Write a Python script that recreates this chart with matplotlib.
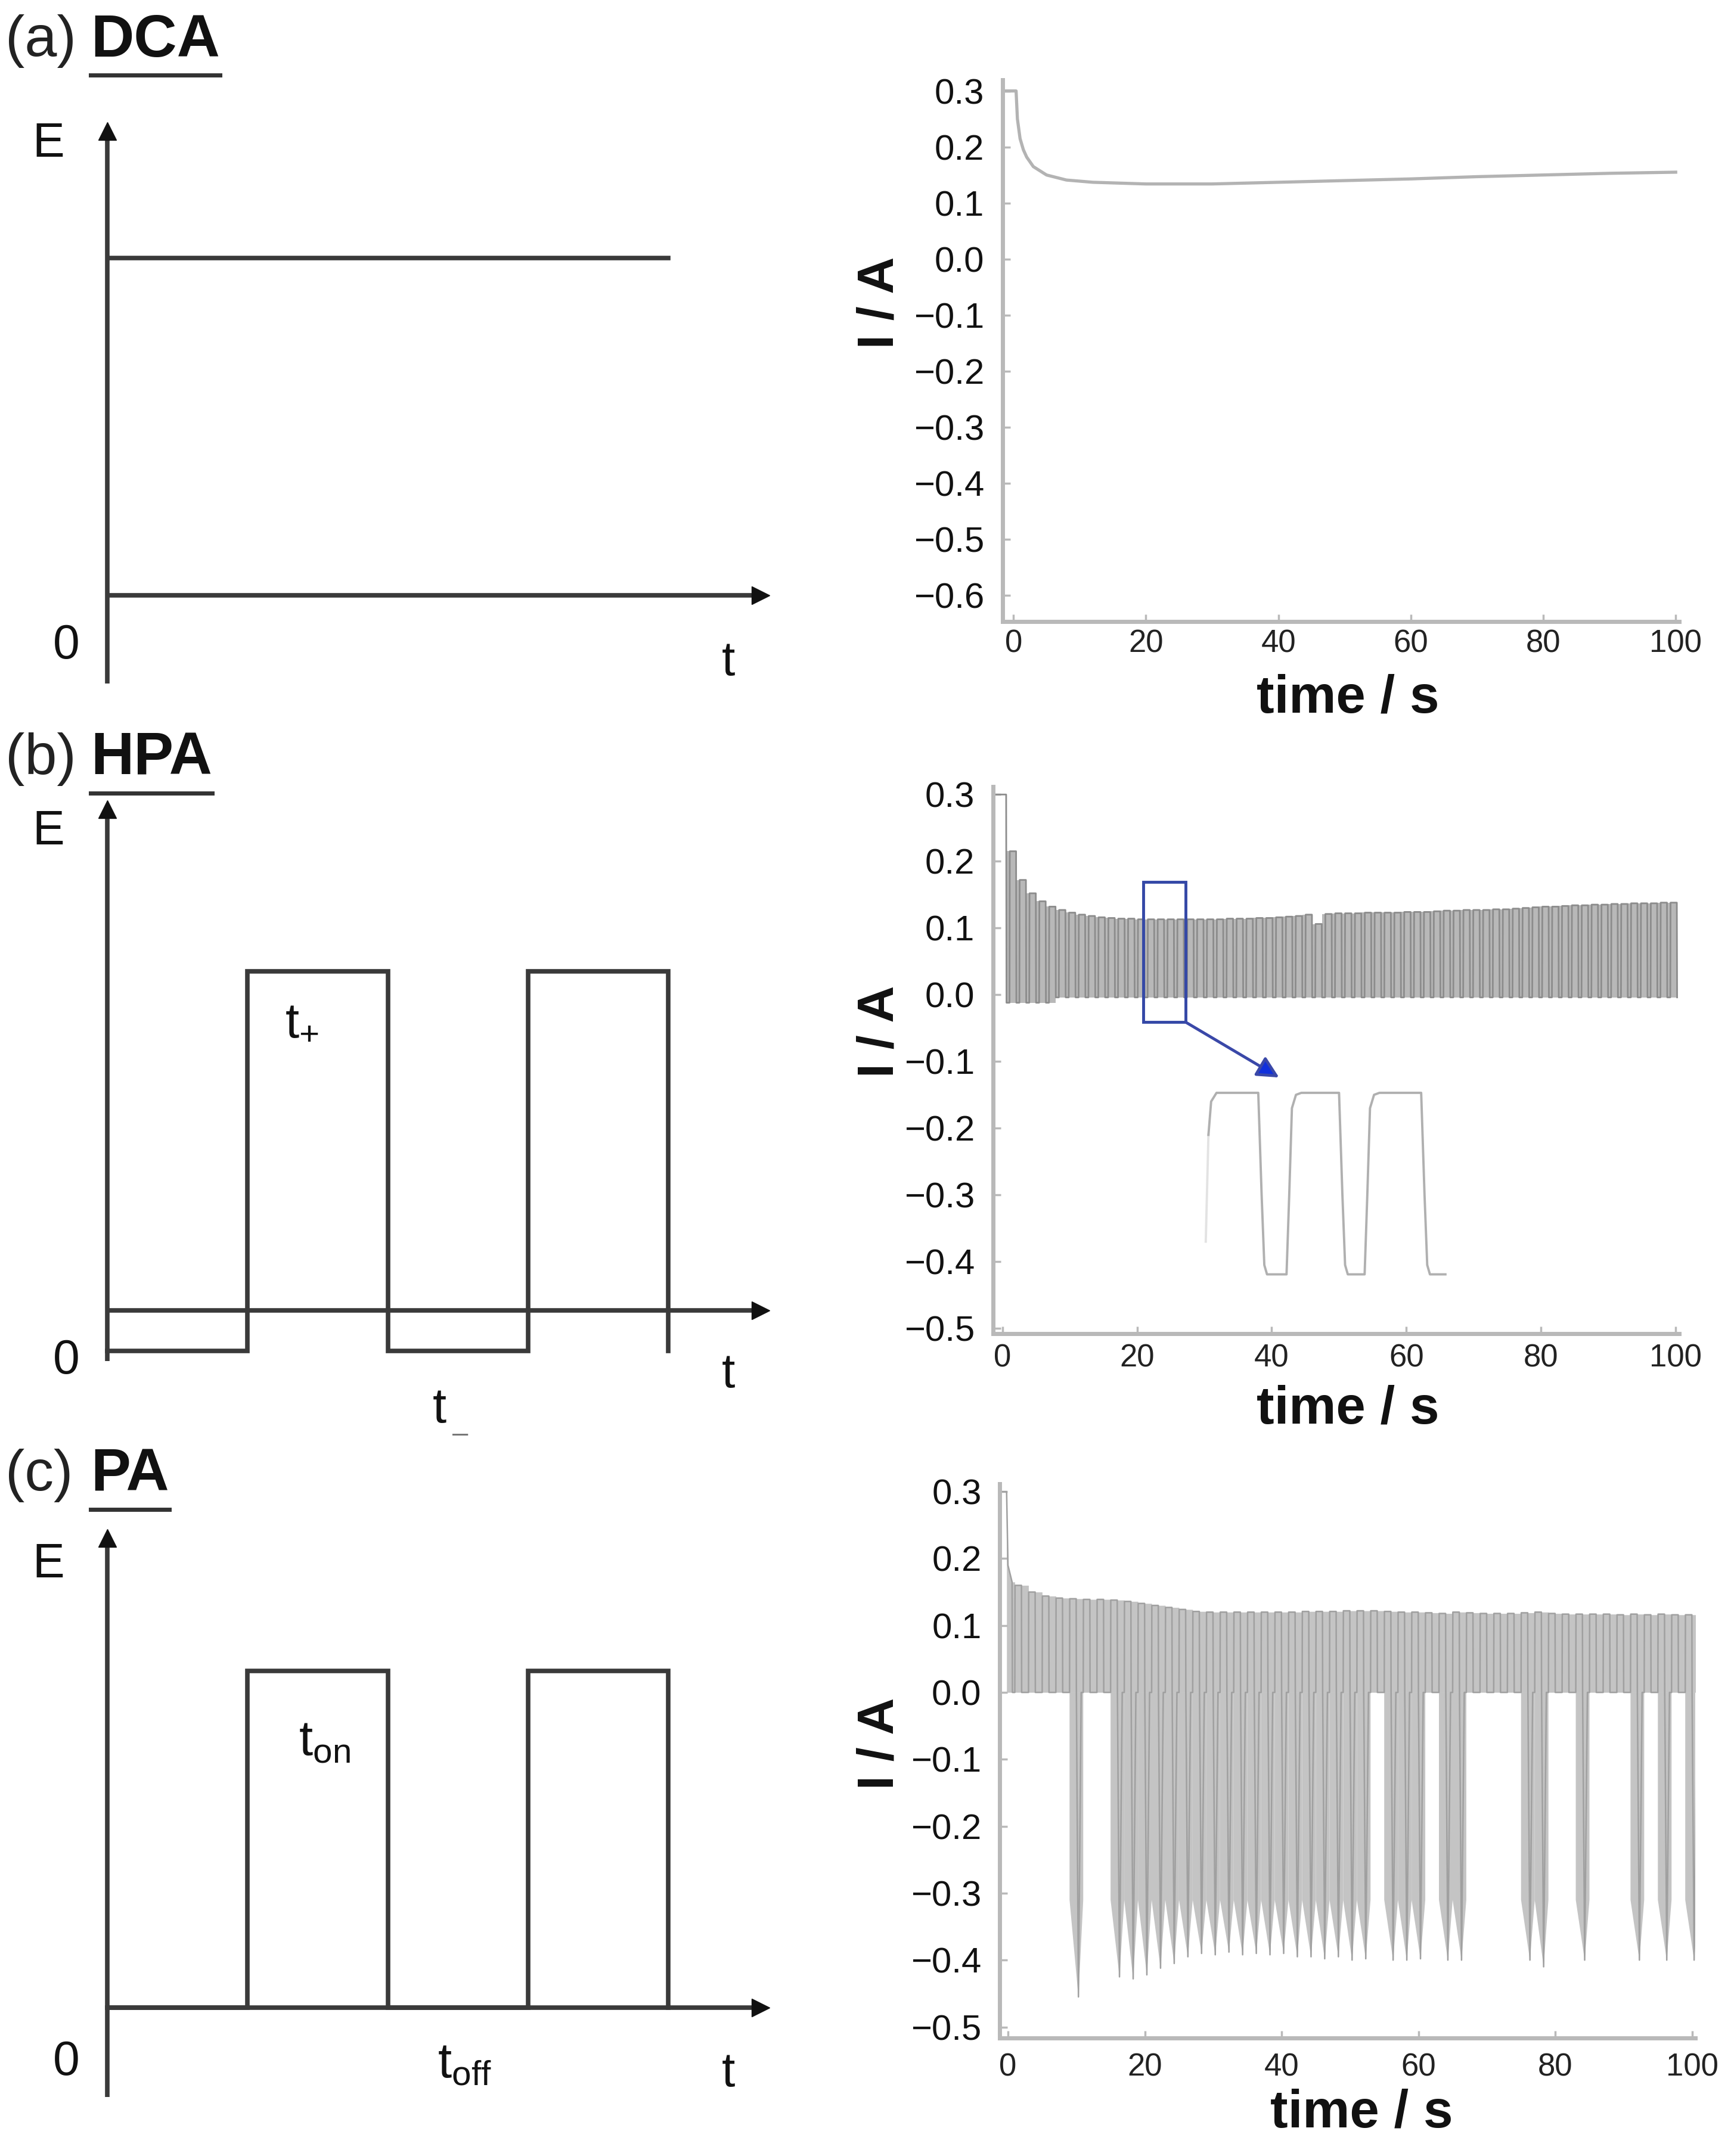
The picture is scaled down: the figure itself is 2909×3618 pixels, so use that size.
import numpy as np
import matplotlib
matplotlib.use('Agg')
import matplotlib.pyplot as plt
from matplotlib.lines import Line2D
from matplotlib.patches import Rectangle

plt.rcParams['font.family'] = ['Liberation Sans', 'DejaVu Sans']
plt.rcParams['mathtext.fontset'] = 'custom'
plt.rcParams['mathtext.rm'] = 'Liberation Sans'
plt.rcParams['mathtext.it'] = 'Liberation Sans'
plt.rcParams['mathtext.bf'] = 'Liberation Sans:bold'

# ---------------- data ----------------
panel_tags = ['(a)', '(b)', '(c)']
panel_names = ['DCA', 'HPA', 'PA']

# schematic potential programmes (arbitrary units)
sch_switch = [1, 2, 3, 4]
sch_dca_level = 0.72
sch_hpa_high, sch_hpa_low = 0.67, -0.08
sch_pa_high = 0.71

time_ticks = [0, 20, 40, 60, 80, 100]
dca_yticks = [0.3, 0.2, 0.1, 0.0, -0.1, -0.2, -0.3, -0.4, -0.5, -0.6]
pulse_yticks = [0.3, 0.2, 0.1, 0.0, -0.1, -0.2, -0.3, -0.4, -0.5]

# (a) direct current
dca_t = [-1.6, 0.4, 0.6, 1.0, 1.5, 2.0, 3.0, 5.0, 8.0, 12, 20, 30, 40, 50, 60, 70, 80, 90, 100]
dca_i = [0.30, 0.30, 0.25, 0.215, 0.195, 0.182, 0.165, 0.150, 0.141, 0.137, 0.134,
         0.134, 0.137, 0.140, 0.143, 0.147, 0.150, 0.153, 0.155]

# (b) hybrid pulse: first step, then one upper level per cycle
hpa_first_t = [-1.35, -1.35, 0.55, 0.6]
hpa_first_i = [0.0, 0.30, 0.30, -0.012]
hpa_start = 0.6
hpa_period = 1.465
hpa_low_time = 0.45
hpa_low_early, hpa_low = -0.012, -0.004
hpa_early_cycles = 5
hpa_peaks = [0.215, 0.172, 0.152, 0.140, 0.132, 0.127, 0.123, 0.120, 0.118, 0.116,
             0.115, 0.114, 0.114, 0.113, 0.113, 0.113, 0.113, 0.113, 0.113, 0.113,
             0.113, 0.113, 0.114, 0.114, 0.114, 0.115, 0.115, 0.116, 0.117, 0.118,
             0.120, 0.106, 0.121,
             0.122, 0.122, 0.122, 0.123, 0.123, 0.123, 0.123, 0.124, 0.124, 0.124, 0.125,
             0.126, 0.126, 0.127, 0.127, 0.127, 0.128, 0.128, 0.129,
             0.130, 0.131, 0.132, 0.132, 0.133,
             0.134, 0.134, 0.135, 0.135, 0.136, 0.136, 0.137, 0.137, 0.137, 0.138, 0.138]
# magnified view of three HPA cycles
hpa_zoom_t = [30.6, 31.0, 31.8, 38.0, 38.5, 38.9, 39.3, 42.2, 42.6, 43.0, 43.6, 44.4,
              50.0, 50.5, 50.9, 51.3, 53.8, 54.2, 54.6, 55.2, 56.0, 62.2, 62.7, 63.1, 63.5, 65.8]
hpa_zoom_i = [-0.21, -0.16, -0.147, -0.147, -0.30, -0.405, -0.419, -0.419, -0.30, -0.17, -0.150, -0.147,
              -0.147, -0.30, -0.405, -0.419, -0.419, -0.30, -0.17, -0.150, -0.147, -0.147, -0.30,
              -0.405, -0.419, -0.419]
hpa_zoom_fade_t = [30.2, 30.6]
hpa_zoom_fade_i = [-0.37, -0.21]
zoom_box = (20.9, 27.2, -0.041, 0.169)
zoom_arrow_tip = (41.1, -0.124)

# (c) pulse: first step, then one on-level per 2 s cycle
pa_first_t = [-1.1, -1.1, -0.2, 0.0, 0.6, 0.65, 1.0]
pa_first_i = [0.0, 0.30, 0.30, 0.19, 0.165, 0.0, 0.0]
pa_first_on = 1.0
pa_period = 2.0
pa_on_time = 1.0
pa_highs = [0.160, 0.150, 0.144, 0.141, 0.140, 0.139, 0.139, 0.138, 0.136, 0.133,
            0.130, 0.127, 0.124, 0.121, 0.120, 0.120, 0.120, 0.120, 0.120, 0.120,
            0.120, 0.121, 0.121, 0.121, 0.122, 0.122, 0.122, 0.121, 0.120, 0.120,
            0.119, 0.118, 0.120, 0.119, 0.118, 0.118, 0.118, 0.119, 0.120, 0.118,
            0.117, 0.117, 0.117, 0.117, 0.116, 0.117, 0.116, 0.117, 0.116, 0.116]
pa_spike_t = [10, 16, 18, 20, 22, 24, 26, 28, 30, 32, 34, 36, 38, 40, 42, 44, 46, 48, 50, 52,
              56, 58, 60, 64, 66, 76, 78, 84, 92, 96, 100]
pa_spike_depth = [-0.455, -0.425, -0.428, -0.422, -0.412, -0.405, -0.395, -0.390, -0.392, -0.388,
                  -0.392, -0.390, -0.392, -0.390, -0.395, -0.395, -0.398, -0.395, -0.400, -0.398,
                  -0.400, -0.400, -0.398, -0.400, -0.400, -0.400, -0.410, -0.400, -0.400, -0.400, -0.400]

# ---------------- figure ----------------
fig = plt.figure(figsize=(29.09, 36.18), dpi=100)
W, H = 1261.0, 1568.0  # layout grid (px of the page)


def rect(x0, y0, x1, y1):
    return [x0 / W, 1 - y1 / H, (x1 - x0) / W, (y1 - y0) / H]


INK = '#3a3a3a'
TXT = '#111111'
XUNIT = 102.0

# ---- left column: schematics ----
# (top of E axis, t axis, bottom of E axis) and label rows, page px
sch_rows = [(92, 433, 497), (585, 953, 990), (1115, 1460, 1525)]
e_label_y = [105, 605, 1138]
zero_label_y = [470, 990, 1500]
t_label_y = [482, 1000, 1508]
title_y = [30, 552, 1073]
sch_axes = []
for (top, axis_y, bot), ey, zy, ty in zip(sch_rows, e_label_y, zero_label_y, t_label_y):
    ax = fig.add_axes(rect(78, top, 555, bot))
    ax.patch.set_visible(False)
    unit = axis_y - top
    ax.set_xlim(0, (555 - 78) / XUNIT)
    ax.set_ylim(-(bot - axis_y) / unit, 1.0)
    ax.axis('off')
    x1 = (555 - 78) / XUNIT
    ax.plot([0, 0], [-(bot - axis_y) / unit, 0.985], color=INK, lw=5.5, clip_on=False, solid_capstyle='butt')
    ax.plot([0, x1 - 0.03], [0, 0], color=INK, lw=5.5, clip_on=False, solid_capstyle='butt')
    ax.plot([0], [0.99], marker='^', ms=22, color=TXT, clip_on=False)
    ax.plot([x1 - 0.02], [0], marker='>', ms=22, color=TXT, clip_on=False)
    ax.text(-0.42, (axis_y - ey) / unit, 'E', ha='center', va='center', fontsize=58, color=TXT)
    ax.text(-0.29, (axis_y - zy) / unit, '0', ha='center', va='center', fontsize=58, color=TXT)
    ax.text(4.43, (axis_y - ty) / unit, 't', ha='center', va='center', fontsize=58, color=TXT)
    sch_axes.append(ax)

# (a) constant potential
ax = sch_axes[0]
ax.plot([0, sch_switch[-1]], [sch_dca_level, sch_dca_level], color=INK, lw=5.5)

# (b) hybrid pulses
ax = sch_axes[1]
xs = [0]
ys = [sch_hpa_low]
for n, s in enumerate(sch_switch):
    prev = sch_hpa_low if n % 2 == 0 else sch_hpa_high
    nxt = sch_hpa_high if n % 2 == 0 else sch_hpa_low
    xs += [s, s]
    ys += [prev, nxt]
ax.plot(xs, ys, color=INK, lw=5.5, solid_joinstyle='miter', clip_on=False)
ax.text(1.39, 0.57, r'$\mathrm{t}_{+}$', ha='center', va='center', fontsize=60, color=TXT)
ax.text(2.37, -0.195, 't', ha='center', va='center', fontsize=60, color=TXT, clip_on=False)
ax.text(2.46, -0.245, '\u2013', ha='left', va='center', fontsize=34, color='#777777', clip_on=False)

# (c) pulses
ax = sch_axes[2]
xs = [0]
ys = [0]
for n, s in enumerate(sch_switch):
    prev = 0 if n % 2 == 0 else sch_pa_high
    nxt = sch_pa_high if n % 2 == 0 else 0
    xs += [s, s]
    ys += [prev, nxt]
ax.plot(xs, ys, color=INK, lw=5.5, solid_joinstyle='miter', clip_on=False)
ax.text(1.55, 0.56, r'$\mathrm{t}_{\mathrm{on}}$', ha='center', va='center', fontsize=60, color=TXT)
ax.text(2.55, -0.12, r'$\mathrm{t}_{\mathrm{off}}$', ha='center', va='center', fontsize=60, color=TXT)

title_texts = []
for tag, name, ty in zip(panel_tags, panel_names, title_y):
    fig.text(4 / W, 1 - ty / H, tag, ha='left', va='center', fontsize=70, color='#222222')
    t = fig.text(66 / W, 1 - ty / H, name, ha='left', va='center', fontsize=72,
                 fontweight='bold', color=TXT)
    title_texts.append(t)

# ---- right column: measured currents ----
SPINE = '#b9b9b9'


def style_axes(ax, yticks, xpad):
    for side in ['top', 'right']:
        ax.spines[side].set_visible(False)
    for side in ['left', 'bottom']:
        ax.spines[side].set_color(SPINE)
        ax.spines[side].set_linewidth(5)
    ax.set_xticks(time_ticks)
    ax.set_xticklabels([str(v) for v in time_ticks])
    ax.set_yticks(yticks)
    ax.set_yticklabels([f'{v:.1f}'.replace('-', '\u2212') for v in yticks])
    ax.tick_params(axis='both', direction='in', length=9, width=2.5, color=SPINE)
    ax.tick_params(axis='x', labelsize=38, pad=xpad, labelcolor='#222222')
    ax.tick_params(axis='y', labelsize=43, pad=22, labelcolor=TXT)


right_boxes = [(729, 58, 1221, 452), (722, 572, 1221, 970), (727, 1079, 1233, 1482)]
xlims = [(-1.66, 100.5), (-1.43, 100.5), (-1.21, 100.5)]
ylims = [(-0.647, 0.32), (-0.508, 0.312), (-0.516, 0.312)]
xpads = [9, 12, 18]
ylab_y = [220, 750, 1268]
xlab = [(980, 508), (980, 1025), (990, 1537)]

raxes = []
for box, xl, yl in zip(right_boxes, xlims, ylims):
    ax = fig.add_axes(rect(*box))
    ax.patch.set_visible(False)
    ax.set_xlim(*xl)
    ax.set_ylim(*yl)
    raxes.append(ax)

# (a) DCA
ax = raxes[0]
ax.plot(dca_t, dca_i, color='#b3b3b3', lw=3.8)
style_axes(ax, dca_yticks, xpads[0])

# (b) HPA
ax = raxes[1]
wt = list(hpa_first_t)
wi = list(hpa_first_i)
et, elo, ehi = [], [], []
for k, peak in enumerate(hpa_peaks):
    s = hpa_start + k * hpa_period
    low = hpa_low_early if k < hpa_early_cycles else hpa_low
    wt += [s, s + hpa_low_time, s + hpa_low_time + 0.04, s + hpa_period - 0.04]
    wi += [low, low, peak, peak]
    et += [s, s + hpa_period]
    elo += [low, low]
    ehi += [peak, peak]
wt.append(hpa_start + len(hpa_peaks) * hpa_period)
wi.append(hpa_low)
ax.fill_between(et, elo, ehi, color='#b8b8b8', lw=0)
ax.plot(wt, wi, color='#8c8c8c', lw=2.0)
ax.plot(hpa_zoom_fade_t, hpa_zoom_fade_i, color='#b0b0b0', lw=2.8, alpha=0.35)
ax.plot(hpa_zoom_t, hpa_zoom_i, color='#b0b0b0', lw=2.8)
bx0, bx1, by0, by1 = zoom_box
ax.add_patch(Rectangle((bx0, by0), bx1 - bx0, by1 - by0, fill=False,
                       edgecolor='#3448a6', lw=3.5, zorder=5))
ax.annotate('', xy=zoom_arrow_tip, xytext=(bx1, by0),
            arrowprops=dict(arrowstyle='-|>', mutation_scale=55, lw=3.5,
                            edgecolor='#3a48a8', facecolor='#1030dc',
                            shrinkA=0, shrinkB=0), zorder=5)
style_axes(ax, pulse_yticks, xpads[1])

# (c) PA
ax = raxes[2]
spikes = dict(zip(pa_spike_t, pa_spike_depth))
wt = list(pa_first_t)
wi = list(pa_first_i)
et = [pa_first_t[2], pa_first_t[3], pa_first_t[4], pa_first_on]
ehi = [pa_first_i[2], pa_first_i[3], pa_first_i[4], pa_first_i[4]]
for k, high in enumerate(pa_highs):
    on = pa_first_on + k * pa_period
    off = on + pa_on_time
    end = on + pa_period
    wt += [on, on + 0.03, off - 0.03, off]
    wi += [0, high, high, 0]
    if off in spikes:
        wt += [off + 0.3, off + 0.7]
        wi += [spikes[off], 0]
    wt.append(end)
    wi.append(0)
    et += [on, end]
    ehi += [high, high]
ax.fill_between(et, 0, ehi, color='#c4c4c4', lw=0)
for st, dep in zip(pa_spike_t, pa_spike_depth):
    ax.fill([st - 1.0, st - 1.0, st + 0.3, st + 1.0, st + 1.0],
            [0, -0.31, dep, -0.31, 0], color='#c4c4c4', lw=0)
ax.plot(wt, wi, color='#a0a0a0', lw=1.8)
style_axes(ax, pulse_yticks, xpads[2])

for yy in ylab_y:
    fig.text(640 / W, 1 - yy / H, 'I / A', rotation=90, ha='center', va='center',
             fontsize=62, fontweight='bold', color=TXT)
for xx, yy in xlab:
    fig.text(xx / W, 1 - yy / H, 'time / s', ha='center', va='center',
             fontsize=64, fontweight='bold', color=TXT)

# underline the panel names
fig.canvas.draw()
for t in title_texts:
    bb = t.get_window_extent()
    fw, fh = fig.bbox.width, fig.bbox.height
    yl = (bb.y0 - 10) / fh
    fig.add_artist(Line2D([bb.x0 / fw, bb.x1 / fw], [yl, yl], color='#333333', lw=5))

fig.savefig('out.png', dpi=100, facecolor='white')
